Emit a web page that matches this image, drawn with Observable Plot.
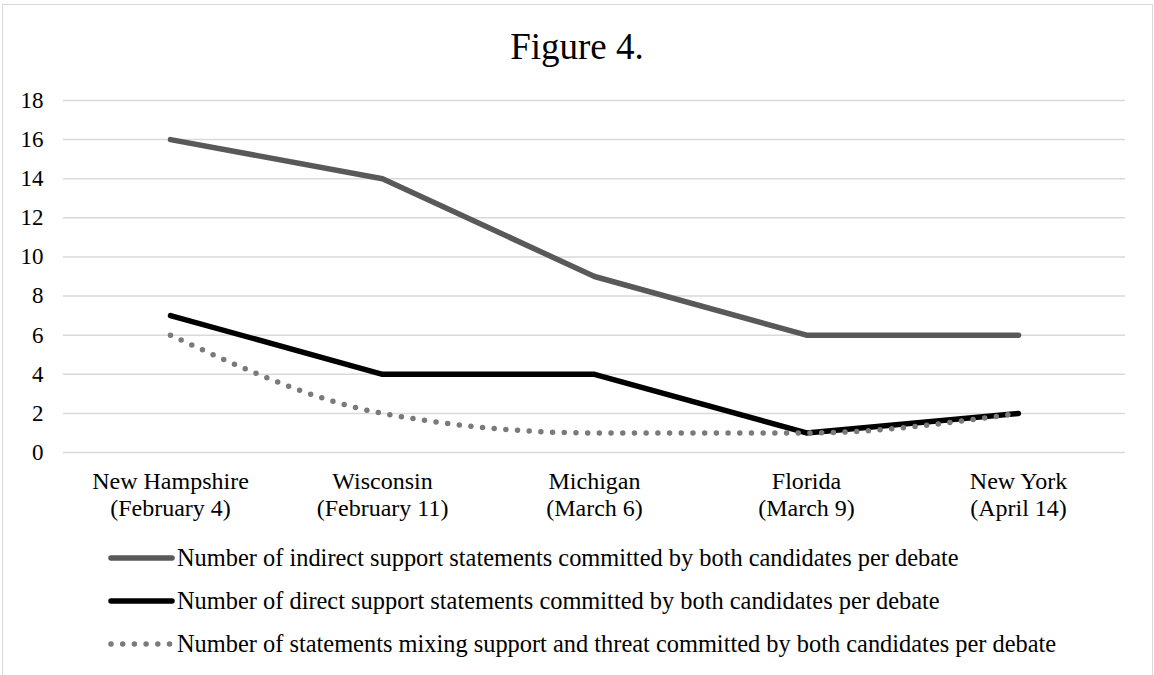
<!DOCTYPE html>
<html>
<head>
<meta charset="utf-8">
<script src="https://cdn.jsdelivr.net/npm/d3@7"></script>
<script src="https://cdn.jsdelivr.net/npm/@observablehq/plot@0.6"></script>
<style>
  html, body { margin: 0; padding: 0; background: #fff; }
  body { width: 1154px; height: 675px; position: relative; overflow: hidden; font-family: "Liberation Serif", "Times New Roman", serif; }
  #frame { position: absolute; left: 2px; top: 4px; width: 1151px; height: 720px; border: 1.5px solid #d9d9d9; box-sizing: border-box; }
  #title { position: absolute; left: 0; width: 1154px; top: 28px; height: 37px; line-height: 37px; font-size: 37px; text-align: center; color: #000; }
  #chart { position: absolute; left: 0; top: 70px; }
  .leg-text { position: absolute; left: 177px; font-size: 24.4px; line-height: 24px; height: 24px; white-space: nowrap; color: #000; }
  .leg-sw { position: absolute; left: 106px; }
</style>
</head>
<body>
<div id="frame"></div>
<div id="title">Figure 4.</div>
<div id="chart"></div>
<div id="legend"></div>
<script>
// ---- data ----
const categories = ["New Hampshire\n(February 4)", "Wisconsin\n(February 11)", "Michigan\n(March 6)", "Florida\n(March 9)", "New York\n(April 14)"];
const indirectSupport = [16, 14, 9, 6, 6];
const directSupport = [7, 4, 4, 1, 2];
const mixedSupportThreat = [6, 2, 1, 1, 2];
const seriesNames = [
  "Number of indirect support statements committed by both candidates per debate",
  "Number of direct support statements committed by both candidates per debate",
  "Number of statements mixing support and threat committed by both candidates per debate"
];
const yTicks = [0, 2, 4, 6, 8, 10, 12, 14, 16, 18];

// ---- styles ----
const styles = [
  {stroke: "#595959", strokeWidth: 5.5, dash: null, curve: "linear"},
  {stroke: "#000000", strokeWidth: 5.5, dash: null, curve: "linear"},
  {stroke: "#7a7a7a", strokeWidth: 5.5, dash: "0 11.7", curve: "monotone-x"}
];
const seriesValues = [indirectSupport, directSupport, mixedSupportThreat];

const rows = (vals) => categories.map((c, i) => ({cat: c, v: vals[i]}));

const plot = Plot.plot({
  width: 1154,
  height: 460,
  marginTop: 30,
  marginBottom: 78,
  marginLeft: 63,
  marginRight: 29,
  style: {fontFamily: "'Liberation Serif', 'Times New Roman', serif", fontSize: "24px", color: "#000", background: "transparent", overflow: "visible"},
  x: {type: "point", domain: categories, padding: 0.5, label: null},
  y: {domain: [0, 18], label: null},
  marks: [
    Plot.ruleY(yTicks, {stroke: "#d9d9d9", strokeWidth: 1.5, strokeOpacity: 1}),
    Plot.axisY({ticks: yTicks, tickSize: 0, tickPadding: 20, fontSize: 23, label: null, tickFormat: d => String(d)}),
    Plot.axisX({tickSize: 0, tickPadding: 18, fontSize: 24, lineHeight: 1.1, label: null, tickFormat: d => d}),
    ...seriesValues.map((vals, k) => Plot.line(rows(vals), {
      x: "cat", y: "v",
      stroke: styles[k].stroke,
      strokeWidth: styles[k].strokeWidth,
      strokeLinecap: "round",
      strokeLinejoin: "round",
      strokeDasharray: styles[k].dash,
      curve: styles[k].curve
    }))
  ]
});
document.getElementById("chart").appendChild(plot);

// ---- legend ----
const legend = d3.select("#legend");
const swatchY = [558, 601, 644];
const baseY = [566, 609, 652];
seriesNames.forEach((name, k) => {
  const svg = legend.append("svg")
    .attr("class", "leg-sw")
    .attr("width", 72).attr("height", 12)
    .style("top", (swatchY[k] - 6) + "px");
  svg.append("line")
    .attr("x1", 5).attr("x2", 66).attr("y1", 6).attr("y2", 6)
    .attr("stroke", styles[k].stroke)
    .attr("stroke-width", styles[k].strokeWidth)
    .attr("stroke-linecap", "round")
    .attr("stroke-dasharray", styles[k].dash);
  legend.append("div")
    .attr("class", "leg-text")
    .style("top", (baseY[k] - 20.1) + "px")
    .text(name);
});
</script>
</body>
</html>
